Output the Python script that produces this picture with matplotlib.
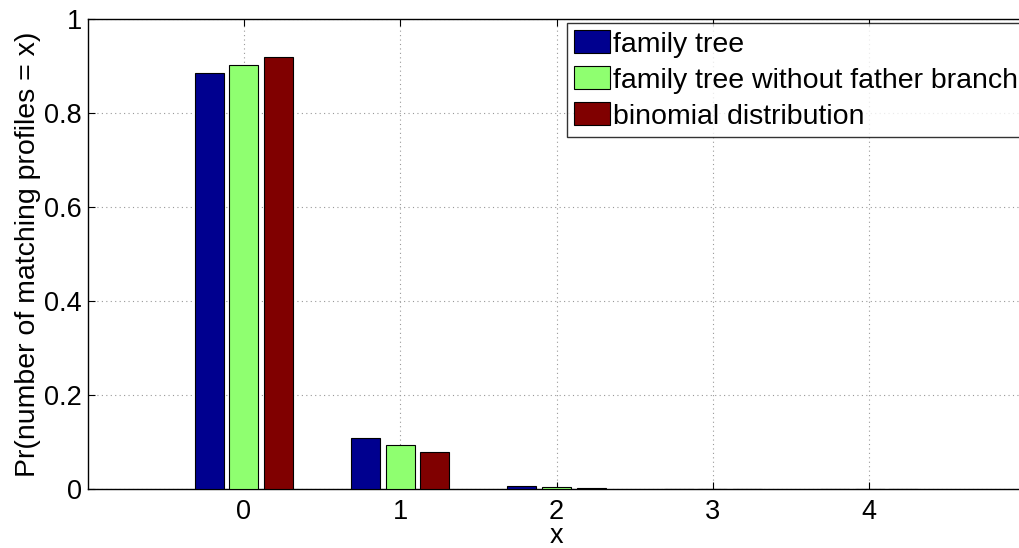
import numpy as np
import matplotlib
matplotlib.use("Agg")
import matplotlib.pyplot as plt

plt.rcParams["font.family"] = ["Liberation Sans", "DejaVu Sans"]

# ── data ─────────────────────────────────────────────────────────────
x_vals = [0, 1, 2, 3, 4]
family_tree = [0.885, 0.108, 0.006, 0.0008, 0.0001]
no_father = [0.902, 0.094, 0.004, 0.0005, 0.0001]
binomial = [0.919, 0.079, 0.002, 0.0002, 0.00005]

series_names = ["family tree", "family tree without father branch",
                "binomial distribution"]
series_colors = ["#00008F", "#8FFF70", "#800000"]

FS = 19.5
FS_BIG = 20.5
W, H = 1019, 548
fig = plt.figure(figsize=(W / 100, H / 100), dpi=100)
ax = fig.add_axes([87.5 / W, 1 - 489 / H, (1025.5 - 87.5) / W, (489 - 19) / H])

x = np.array(x_vals)
offsets = [-0.222, 0.0, 0.222]
bw = 0.186
for vals, off, name, col in zip([family_tree, no_father, binomial],
                                offsets, series_names, series_colors):
    ax.bar(x + off, vals, width=bw, color=col, edgecolor="black",
           linewidth=0.8, label=name, zorder=3)

ax.set_xlim(-1, 5)
ax.set_ylim(0, 1)
ax.set_xticks(x_vals)
ax.set_yticks([0, 0.2, 0.4, 0.6, 0.8, 1])
ax.set_yticklabels(["0", "0.2", "0.4", "0.6", "0.8", "1"])
ax.tick_params(direction="in", labelsize=FS, length=5, top=True, right=True)
ax.tick_params(axis="x", pad=7)
ax.tick_params(axis="y", pad=4)
ax.grid(True, linestyle=(0, (1, 3)), color="#999999", linewidth=0.8)
ax.set_axisbelow(True)
for s in ax.spines.values():
    s.set_linewidth(1.0)

ax.set_xlabel("x", fontsize=FS, labelpad=-1.5)
ax.set_ylabel("Pr(number of matching profiles = x)", fontsize=FS_BIG, labelpad=2)

leg = ax.legend(loc="upper left", bbox_to_anchor=(567 / W, 1 - 23 / H),
                bbox_transform=fig.transFigure, fontsize=FS_BIG, frameon=True,
                fancybox=False, edgecolor="black", handlelength=1.26,
                handleheight=0.88, handletextpad=0.1, borderpad=0.25,
                labelspacing=0.3, borderaxespad=0)
leg.get_frame().set_linewidth(1.0)

fig.savefig("out.png", dpi=100)
